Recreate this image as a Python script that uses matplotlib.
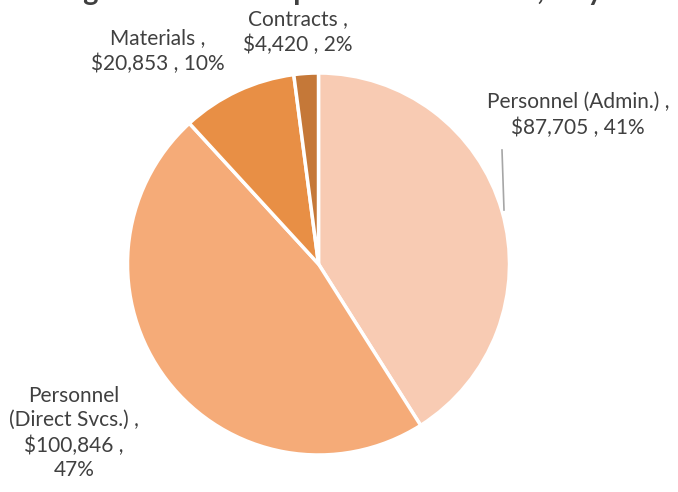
import matplotlib.pyplot as plt

# Expense categories, in the order they run clockwise from 12 o'clock
categories = ["Personnel (Admin.)", "Personnel\n(Direct Svcs.)", "Materials", "Contracts"]
amounts = [87705, 100846, 20853, 4420]
colors = ["#F8CBB3", "#F5AB78", "#E88F45", "#C57838"]

# label anchor points (pixels from the top-left corner of the figure)
label_pos = [(578, 115), (74, 433), (158, 51), (298, 32)]

W, H = 678, 492
plt.rcParams["font.family"] = ["Lato", "DejaVu Sans"]

fig = plt.figure(figsize=(W / 100, H / 100), dpi=100)
ax = fig.add_axes([0, 0, 1, 1])

wedges, _ = ax.pie(
    amounts,
    colors=colors,
    startangle=90,
    counterclock=False,
    center=(318.5, H - 264),
    radius=191,
    wedgeprops=dict(edgecolor="white", linewidth=2.5),
)

total = sum(amounts)
for (x, y), name, val in zip(label_pos, categories, amounts):
    pct = round(100 * val / total)
    if "\n" in name:
        txt = f"{name} ,\n${val:,} ,\n{pct}%"
    else:
        txt = f"{name} ,\n${val:,} , {pct}%"
    ax.text(x, H - y, txt, ha="center", va="center", fontsize=15,
            color="#404040", linespacing=1.3)

# leader line for the admin label
ax.plot([502, 504], [H - 150, H - 210], color="#A6A6A6", linewidth=1.2)

# title sits mostly above the top edge
fig.text(0.045, 1.001, "Budget and Total Expenditures to Date, July", ha="left",
         va="baseline", fontsize=21, fontweight="bold", color="#404040")

ax.set_xlim(0, W)
ax.set_ylim(0, H)
ax.set_aspect("equal")
ax.axis("off")

fig.savefig("out.png", dpi=100)
